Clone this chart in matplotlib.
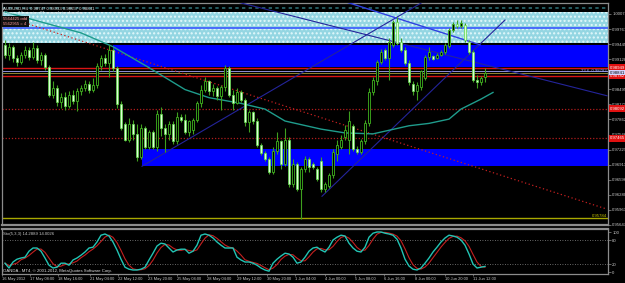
"""AUDUSD H4 chart with zones, trendlines and a stochastic panel (MT4 style)."""

import numpy as np
import pandas as pd
import matplotlib
matplotlib.use("Agg")
import matplotlib.pyplot as plt
import matplotlib.transforms as mtransforms
from matplotlib.patches import Rectangle

W, H = 625, 283

# ---------------------------------------------------------------- candles
opens = [
    .9943, .9922, .9939, .9916, .9907, .9922, .9933, .9918, .9937, .9912,
    .9922, .9897, .9838, .9853, .9822, .9834, .9815, .9838, .9824, .9845,
    .9853, .9861, .9849, .9859, .9899, .9916, .9905, .9933, .9895, .9818,
    .9776, .9744, .9776, .9755, .9707, .9769, .9728, .9759, .9728, .9797,
    .9769, .9755, .9776, .9740, .9792, .9786, .9759, .9765, .9786, .9820,
    .9849, .9866, .9845, .9853, .9836, .9855, .9895, .9838, .9820, .9843,
    .9828, .9780, .9801, .9782, .9732, .9715, .9703, .9677, .9719, .9740,
    .9692, .9744, .9650, .9692, .9640, .9682, .9703, .9692, .9682, .9699,
    .9640, .9646, .9669, .9713, .9728, .9749, .9744, .9772, .9724, .9717,
    .9740, .9778, .9843, .9866, .9907, .9933, .9916, .9943, .9991, .9949,
    .9933, .9905, .9861, .9845, .9855, .9874, .9918, .9920, .9916, .9922,
    .9928, .9941, .9974, .9987, .9983, .9985, .9949, .9928, .9870, .9864,
    .98747,
]
highs = [
    .9953, .9947, .9943, .9922, .9928, .9941, .9939, .9949, .9943, .9928,
    .9926, .9901, .9866, .9859, .9841, .9843, .9845, .9849, .9853, .9859,
    .9870, .9866, .9874, .9905, .9922, .9924, .9943, .9937, .9899, .9824,
    .9780, .9790, .9786, .9776, .9776, .9772, .9765, .9765, .9807, .9813,
    .9776, .9782, .9782, .9801, .9797, .9797, .9786, .9790, .9824, .9859,
    .9876, .9870, .9861, .9857, .9859, .9901, .9899, .9849, .9853, .9849,
    .9832, .9807, .9803, .9790, .9736, .9719, .9707, .9728, .9759, .9744,
    .9769, .9749, .9703, .9696, .9686, .9709, .9707, .9696, .9686, .9707,
    .9655, .9673, .9724, .9744, .9753, .9774, .9803, .9776, .9730, .9746,
    .9786, .9853, .9876, .9912, .9935, .9937, .9958, .9995, 1.0002, .9958,
    .9939, .9912, .9866, .9864, .9891, .9922, .9939, .9922, .9926, .9933,
    .9947, .9979, .9991, .9995, .9995, .9989, .9953, .9933, .9880, .9878,
    .98933,
]
lows = [
    .9916, .9912, .9907, .9899, .9903, .9916, .9912, .9914, .9905, .9901,
    .9891, .9834, .9832, .9815, .9811, .9807, .9811, .9818, .9803, .9838,
    .9845, .9841, .9843, .9853, .9891, .9899, .9876, .9887, .9811, .9765,
    .9740, .9738, .9744, .9699, .9703, .9724, .9724, .9724, .9719, .9751,
    .9717, .9744, .9734, .9734, .9780, .9755, .9751, .9755, .9780, .9813,
    .9843, .9838, .9836, .9828, .9807, .9845, .9834, .9807, .9818, .9822,
    .9772, .9759, .9776, .9728, .9711, .9699, .9671, .9671, .9713, .9682,
    .9688, .9644, .9644, .9636, .9578, .9675, .9677, .9682, .9657, .9634,
    .9634, .9642, .9663, .9699, .9724, .9744, .9713, .9719, .9713, .9713,
    .9734, .9772, .9838, .9859, .9903, .9912, .9870, .9939, .9943, .9928,
    .9901, .9859, .9838, .9828, .9849, .9870, .9912, .9912, .9914, .9920,
    .9924, .9937, .9970, .9979, .9979, .9949, .9924, .9864, .9853, .9859,
    .98657,
]
closes = [
    .9922, .9939, .9916, .9907, .9922, .9933, .9918, .9937, .9912, .9922,
    .9897, .9838, .9853, .9822, .9834, .9815, .9838, .9824, .9845, .9853,
    .9861, .9849, .9859, .9899, .9916, .9905, .9933, .9895, .9818, .9769,
    .9744, .9776, .9755, .9707, .9769, .9728, .9759, .9728, .9797, .9769,
    .9755, .9776, .9740, .9792, .9786, .9759, .9782, .9786, .9820, .9849,
    .9866, .9845, .9853, .9836, .9855, .9895, .9838, .9820, .9843, .9828,
    .9780, .9801, .9782, .9732, .9715, .9703, .9677, .9719, .9740, .9692,
    .9744, .9650, .9692, .9640, .9682, .9703, .9686, .9686, .9661, .9640,
    .9650, .9669, .9717, .9732, .9744, .9765, .9782, .9724, .9717, .9742,
    .9778, .9843, .9870, .9907, .9928, .9916, .9949, .9991, .9947, .9933,
    .9905, .9864, .9845, .9859, .9887, .9918, .9928, .9914, .9922, .9928,
    .9943, .9974, .9987, .9983, .9989, .9953, .9928, .9870, .9864, .9874,
    .98841,
]

# moving average (teal), read at a few bars
ma_bars = [0, 9, 19, 27, 36, 45, 51, 59, 65, 70, 79, 85, 92, 101, 106, 111, 114, 119, 122]
ma_values = [1.0012, 0.9991, 0.9968, 0.9939, 0.9895, 0.9849, 0.9832, 0.9820, 0.9808,
             0.9783, 0.9766, 0.9758, 0.9756, 0.9773, 0.9778, 0.9787, 0.9808, 0.9829, 0.9843]

# stochastic %K per bar
stoch_k = [
    22, 10, 25, 32, 35, 37, 52, 60, 60, 52, 35, 17, 10, 12, 22, 22, 17, 30, 35, 42,
    50, 60, 62, 75, 92, 95, 90, 75, 55, 32, 12, 7, 5, 5, 7, 12, 30, 47, 65, 72,
    70, 60, 50, 55, 57, 57, 47, 52, 67, 92, 95, 92, 85, 75, 67, 60, 60, 60, 37, 30,
    25, 25, 22, 17, 10, 5, 2, 22, 32, 40, 47, 45, 37, 22, 25, 37, 52, 60, 62, 55,
    50, 62, 80, 87, 92, 90, 72, 60, 52, 50, 62, 87, 97, 100, 100, 97, 95, 92, 82, 60,
    32, 15, 7, 5, 10, 22, 35, 50, 62, 75, 85, 92, 90, 87, 80, 67, 45, 20, 10, 12, 14,
]

# zones (price bands) and horizontal levels
zone_cyan = (0.99462, 1.0012)
zone_blue_top = (0.9896, 0.9943)
zone_blue_low = (0.9688, 0.9724)
zone_blue_top_start = 27.0
zone_blue_low_start = 34.25

level_red = [0.98949, 0.98782]
level_red_dotted = [0.98092, 0.97465]
level_bid = 0.98841
level_ask = 0.98886
level_low = 0.95784
level_cyan_line = 0.9979
level_top_dots = 1.0020

# trendlines: (bar, price) -> (bar, price)
trend_x0 = [34.25, 79.25, 58.0, 85.25]
trend_y0 = [0.9688, 0.9625, 1.0033, 1.0033]
trend_x1 = [104.5, 125.0, 150.5, 118.75]
trend_y1 = [1.0033, 0.9995, 0.9836, 0.9943]
trend_colors = ["#24249a", "#24249a", "#24249a", "#3040e0"]
redline_x = [5.0, 150.5]
redline_y = [0.9989, 0.9598]

price_ticks = [1.00078, 0.99761, 0.99445, 0.99128, 0.98812, 0.98495, 0.98179, 0.97862,
               0.97546, 0.97229, 0.96913, 0.96596, 0.96280, 0.95963, 0.95647]

date_pos = [-0.75, 6.25, 13.25, 21.25, 28.25, 35.75, 43, 50.5, 58, 65.5, 72.5, 80,
            87.5, 94.75, 102.5, 110, 117]
date_labels = ["16 May 2012", "17 May 08:00", "18 May 16:00", "21 May 04:00", "22 May 12:00",
               "23 May 20:00", "25 May 04:00", "28 May 04:00", "29 May 12:00", "30 May 20:00",
               "1 Jun 04:00", "4 Jun 00:00", "5 Jun 08:00", "6 Jun 16:00", "8 Jun 00:00",
               "10 Jun 20:00", "11 Jun 12:00"]

plt.rcParams["font.family"] = ["Liberation Sans Narrow", "Liberation Sans", "DejaVu Sans"]

FRAME = "#8c8c8c"
TXT = "#c8c8c8"
FS = 3.1

fig = plt.figure(figsize=(W / 100, H / 100), dpi=100, facecolor="black")
ax = fig.add_axes([2 / W, 1 - 225 / H, 606 / W, 222 / H], facecolor="black")
ax_st = fig.add_axes([2 / W, 1 - 274 / H, 606 / W, 45 / H], facecolor="black")

XMIN, XMAX = -0.75, 150.75
ax.set_xlim(XMIN, XMAX)
ax.set_ylim(0.956675, 1.003073)

# background zones
ax.add_patch(Rectangle((XMIN, zone_cyan[0]), XMAX - XMIN, zone_cyan[1] - zone_cyan[0],
                       facecolor="#94d6e2", edgecolor="#e2f8fb", hatch="....", lw=0, zorder=1))
ax.add_patch(Rectangle((zone_blue_top_start, zone_blue_top[0]), XMAX - zone_blue_top_start,
                       zone_blue_top[1] - zone_blue_top[0], facecolor="#0000ff", lw=0, zorder=1))
ax.add_patch(Rectangle((zone_blue_low_start, zone_blue_low[0]), XMAX - zone_blue_low_start,
                       zone_blue_low[1] - zone_blue_low[0], facecolor="#0000ff", lw=0, zorder=1))

ax.axhline(level_cyan_line, color="#3a58ff", lw=1.2, zorder=2)
ax.axhline(level_top_dots, color="#2c6c72", lw=1.2, ls=(0, (2, 2)), zorder=2)
for lv in level_red:
    ax.axhline(lv, color="#d81414", lw=1.0, zorder=2)
ax.axhline(level_ask, color="#a8a8ff", lw=0.6, zorder=2)
ax.axhline(level_bid, color="#a89a3a", lw=0.6, zorder=2)
for lv in level_red_dotted:
    ax.axhline(lv, color="#b01c1c", lw=0.9, ls=(0, (1, 1.5)), zorder=2)
ax.axhline(level_low, color="#a8a800", lw=1.0, zorder=2)

# trendlines
for x0, y0, x1, y1, col in zip(trend_x0, trend_y0, trend_x1, trend_y1, trend_colors):
    ax.plot([x0, x1], [y0, y1], color=col, lw=1.0 if col == "#3040e0" else 0.8, zorder=3)
ax.plot(redline_x, redline_y, color="#c42020", lw=0.9, ls=(0, (1, 2)), zorder=3)
ax.plot(ma_bars, ma_values, color="#1f9c8c", lw=1.0, zorder=3)

# candles
o = np.array(opens)
h = np.array(highs)
lo = np.array(lows)
c = np.array(closes)
x = np.arange(len(c))
bear = c < o
body_lo = np.minimum(o, c)
body_h = np.maximum(np.abs(c - o), 0.00012)
ax.vlines(x, lo, h, color="#3ea01e", lw=0.8, zorder=4)
ax.bar(x[bear], body_h[bear], bottom=body_lo[bear], width=0.62,
       color="#dcffd6", edgecolor="#62dc4a", lw=0.5, zorder=5)
ax.bar(x[~bear], body_h[~bear], bottom=body_lo[~bear], width=0.62,
       color="black", edgecolor="#40b41e", lw=0.6, zorder=5)

# axes styling
for sp in ax.spines.values():
    sp.set_color(FRAME)
    sp.set_linewidth(0.9)
ax.spines["bottom"].set_linewidth(1.6)
ax.set_xticks([])
ax.yaxis.tick_right()
ax.set_yticks(price_ticks)
ax.set_yticklabels([f"{t:.5f}" for t in price_ticks])
ax.tick_params(axis="y", colors=FRAME, labelcolor=TXT, labelsize=FS, length=2, width=0.5, pad=1)

# price tags on the right
tr = mtransforms.blended_transform_factory(ax.transAxes, ax.transData)
for lv in level_red + level_red_dotted:
    ax.text(1.0035, lv, f"{lv:.5f}", transform=tr, fontsize=FS, color="white",
            va="center", ha="left", clip_on=False, zorder=10,
            bbox=dict(boxstyle="square,pad=0.3", fc="#e01010", ec="none"))
ax.text(1.0035, level_bid, f"{level_bid:.5f}", transform=tr, fontsize=FS, color="black",
        va="center", ha="left", clip_on=False, zorder=11,
        bbox=dict(boxstyle="square,pad=0.15", fc="#d4d4ff", ec="none"))
ax.text(0.998, level_ask, "23.6  0.98782", transform=tr, fontsize=FS,
        color="#9aa6ff", ha="right", va="center", zorder=6)
ax.text(0.998, level_low + 0.0005, f"{level_low:.5f}", transform=tr, fontsize=FS,
        color="#c8c800", ha="right", va="center", zorder=6)

# header texts
ax.text(0.002, 0.985, "AUDUSD,H4  0.98747 0.98933 0.98657 0.98841", transform=ax.transAxes,
        fontsize=FS, color="#e8e8e8", va="top", ha="left", zorder=8)
ax.text(0.002, 0.962, "1 hours 14 minutes 37 seconds to close bar", transform=ax.transAxes,
        fontsize=FS, color="#e8e8e8", va="top", ha="left", zorder=8)
ax.text(0.002, 0.935, "5564425 odd\n5562955 = 4", transform=ax.transAxes, fontsize=FS,
        color="#ff9a9a", va="top", ha="left", linespacing=1.15, zorder=8,
        bbox=dict(boxstyle="square,pad=0.3", fc="#101010", ec="none"))

# stochastic panel
k = pd.Series(stoch_k, dtype=float)
d = k.rolling(3, min_periods=1).mean()
xs = np.arange(len(k))
ax_st.set_xlim(XMIN, XMAX)
ax_st.set_ylim(-5, 107.5)
ax_st.axhline(80, color="#8a8a8a", lw=0.6, ls=(0, (1, 2)))
ax_st.axhline(20, color="#8a8a8a", lw=0.6, ls=(0, (1, 2)))
ax_st.plot(xs, d, color="#c42020", lw=0.8)
ax_st.plot(xs, k, color="#22c4b4", lw=1.0)
for sp in ax_st.spines.values():
    sp.set_color(FRAME)
    sp.set_linewidth(0.9)
ax_st.spines["top"].set_linewidth(1.6)
ax_st.yaxis.tick_right()
ax_st.set_yticks([100, 80, 20, 0])
ax_st.set_yticklabels(["100", "80", "20", "0"])
ax_st.tick_params(axis="y", colors=FRAME, labelcolor=TXT, labelsize=FS, length=2, width=0.5, pad=1)
ax_st.set_xticks(date_pos)
ax_st.set_xticklabels(date_labels)
ax_st.tick_params(axis="x", colors=FRAME, labelcolor=TXT, labelsize=2.9, length=1.5, width=0.5, pad=0.5)
for lab in ax_st.get_xticklabels():
    lab.set_horizontalalignment("left")
ax_st.text(0.002, 0.93, "Sto(5,3,3) 14.2889 14.0026",
           transform=ax_st.transAxes, fontsize=FS, color=TXT, va="top", ha="left")
ax_st.text(0.002, 0.02, "OANDA - MT4, \u00a9 2001-2012, MetaQuotes Software Corp.",
           transform=ax_st.transAxes, fontsize=FS, color="#e0e0e0", va="bottom", ha="left")

fig.savefig("out.png", dpi=100, facecolor="black")
